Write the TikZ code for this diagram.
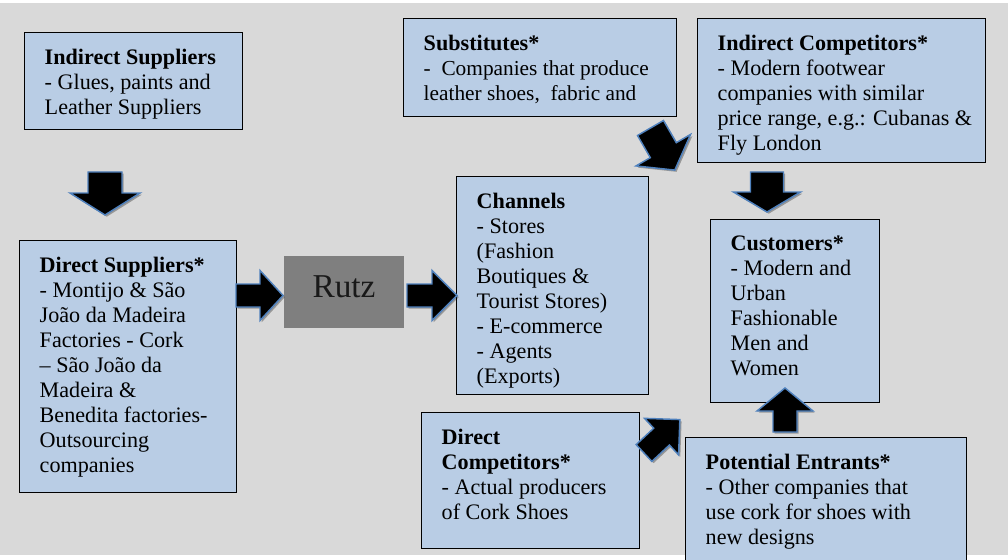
\documentclass[tikz,border=0pt]{standalone}
\usepackage{fontspec}
\setmainfont{Liberation Serif}
\usetikzlibrary{shadows,calc}
\definecolor{bgcol}{HTML}{D9D9D9}
\definecolor{boxblue}{HTML}{B9CDE5}
\definecolor{arrowedge}{HTML}{4F81BD}
\definecolor{rutzgray}{HTML}{7F7F7F}
\newlength\px \setlength\px{0.75pt}
\tikzset{
  box/.style={draw=black, line width=1.1pt, fill=boxblue, anchor=north west,
    inner xsep=15pt, inner ysep=12pt, font=\fontsize{16.6}{18.75}\selectfont},
  barrow/.style={fill=black, draw=arrowedge, line width=1.1pt, line join=miter,
    drop shadow={shadow xshift=1.3pt, shadow yshift=-1.3pt, opacity=0.3, fill=black}},
  rutzbox/.style={fill=rutzgray, minimum width=90pt, minimum height=54pt, inner sep=0pt,
    font=\fontsize{25}{30}\selectfont, text=black!90, text height=16.5pt, text depth=8pt}
}
\newcommand{\boxnode}[6]{\node[box] (#1) at (#2,#3) {\begin{minipage}[t][\dimexpr #5\px-24pt\relax][t]{\dimexpr #4\px-30pt\relax}\raggedright\hfuzz=20pt #6\end{minipage}};}
% name, back centre, angle, length, shaft width, head width, head length
\newcommand{\blockarrow}[7]{\path[barrow, shift={#2}, rotate=#3] (0,{-#5/2}) -- ({#4-#7},{-#5/2}) -- ({#4-#7},{-#6/2}) -- (#4,0) coordinate (#1) -- ({#4-#7},{#6/2}) -- ({#4-#7},{#5/2}) -- (0,{#5/2}) -- cycle;}
\begin{document}
\begin{tikzpicture}[x=0.75pt, y=-0.75pt]
\useasboundingbox (0,0) rectangle (1008,560);
\clip (0,0) rectangle (1008,560);
\fill[bgcol] (0,3) rectangle (1008,555);

\boxnode{isup}{24}{32}{218}{97}{\textbf{Indirect Suppliers}\\- Glues, paints and\\Leather Suppliers}
\boxnode{dsup}{19}{240}{217}{252}{\textbf{Direct Suppliers*}\\- Montijo \& São\\João da Madeira\\Factories - Cork\\– São João da\\Madeira \&\\\mbox{Benedita factories-}\\Outsourcing\\companies}
\node[rutzbox] (rutz) at (344,292) {Rutz};
\boxnode{chan}{456}{176}{192}{218}{\textbf{Channels}\\- Stores\\(Fashion\\Boutiques \&\\\mbox{Tourist Stores)}\\- E-commerce\\- Agents\\(Exports)}
\boxnode{subs}{403}{18}{273}{98}{\textbf{Substitutes*}\\{\fontsize{16}{18.75}\selectfont\mbox{-\ \ Companies that produce}\\\mbox{leather shoes,\ \ fabric and}}}
\boxnode{icomp}{697}{18}{288}{144}{\textbf{Indirect Competitors*}\\- Modern footwear\\companies with similar\\\mbox{price range, e.g.: Cubanas \&}\\Fly London}
\boxnode{cust}{710}{219}{169}{183}{\textbf{Customers*}\\- Modern and\\Urban\\Fashionable\\Men and\\Women}
\boxnode{pent}{685}{437}{281}{130}{\textbf{Potential Entrants*}\\- Other companies that\\\mbox{use cork for shoes with}\\new designs}
\boxnode{dcomp}{421}{412}{218}{136}{\textbf{Direct}\\\textbf{Competitors*}\\\mbox{- Actual producers}\\of Cork Shoes}

\blockarrow{tipA}{(105,172)}{-90}{43}{34}{70}{22}
\blockarrow{tipB}{(236,295.5)}{0}{47}{23}{50}{23}
\blockarrow{tipC}{(407,295.5)}{0}{50}{23}{50}{25}
\blockarrow{tipD}{(767,172)}{-90}{40}{33}{67}{20}
\blockarrow{tipE}{(785,432)}{90}{44}{24}{56}{23}
\blockarrow{tipF}{(650.5,128)}{-60}{48.6}{30}{63}{23}
\blockarrow{tipG}{(644,453)}{43}{49}{23}{50}{25}
\end{tikzpicture}
\end{document}
